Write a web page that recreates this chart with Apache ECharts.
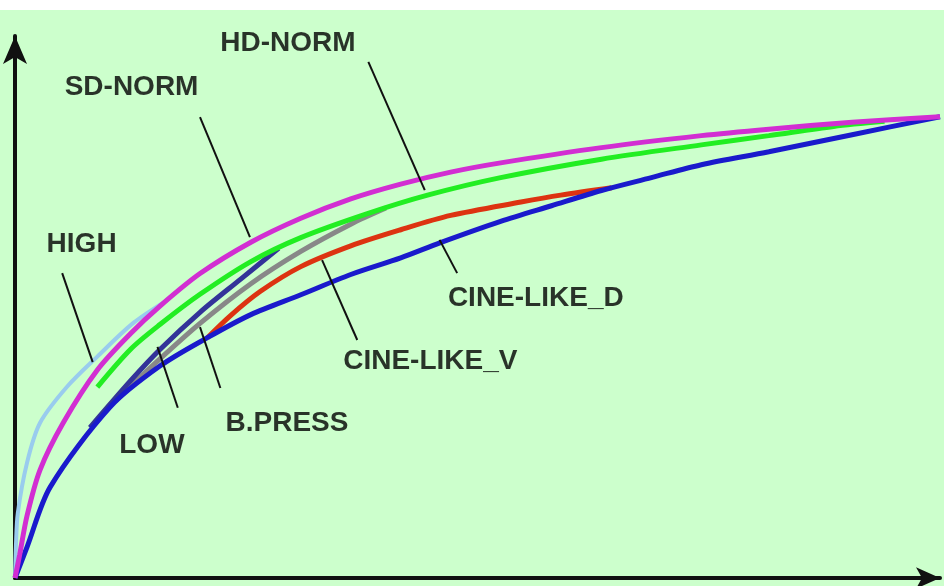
<!DOCTYPE html>
<html>
<head>
<meta charset="utf-8">
<script src="https://cdn.jsdelivr.net/npm/echarts@6/dist/echarts.min.js"></script>
<style>
  html, body { margin: 0; padding: 0; background: #fff; }
  #main { width: 944px; height: 586px; }
</style>
</head>
<body>
<div id="main"></div>
<script>
// curves, x and y in relative units (0..100)
var highCurve = [[0, 0], [0.1, 7], [0.3, 14], [1.3, 25.0], [2.7, 33.6], [5.6, 41.4], [8.9, 48.0], [12.8, 55.3], [16.5, 60.3]];
var sdNorm = [[0, 0], [0.5, 5], [1.3, 13.5], [2.7, 23.4], [5.2, 33.6], [8.9, 45.1], [12.5, 53.0], [15.7, 59.0], [20.0, 66.0], [25.5, 72.8], [30.9, 78.0], [36.3, 82.2], [41.7, 85.4], [47.1, 88.0], [52.5, 90.0], [63.4, 93.3], [74.2, 95.9], [81.5, 97.3], [90.5, 98.8], [100, 100]];
var hdNorm = [[8.9, 41.4], [12.5, 49.6], [15.7, 55.0], [20.0, 61.5], [25.5, 68.6], [30.9, 73.8], [38.1, 79.0], [44.6, 83.0], [52.5, 86.8], [63.4, 90.8], [74.2, 93.9], [81.5, 95.9], [88.5, 97.9], [94, 99.0]];
var lowCurve = [[8.1, 32.6], [9.2, 35.2], [12.5, 42.8], [15.7, 49.6], [20.0, 57.6], [24.4, 64.8], [28.5, 71.5]];
var bPress = [[10.8, 38.3], [15.4, 47.0], [20.0, 55.2], [25.5, 63.8], [30.9, 70.8], [36.3, 76.7], [40.1, 80.2]];
var cineV = [[20.8, 52.1], [23.3, 56.9], [26.5, 62.1], [30.9, 67.5], [36.3, 72.0], [41.7, 75.5], [47.1, 78.6], [54.7, 81.5], [59.0, 83.0], [64.5, 84.6]];
var cineD = [[0, 0], [1.3, 6.7], [3.8, 19.7], [10.3, 37.1], [15.7, 46.0], [20.8, 52.1], [25.5, 57.1], [30.9, 61.4], [36.3, 65.8], [41.7, 69.4], [46.0, 72.7], [52.5, 77.3], [58.0, 80.7], [63.4, 84.0], [68.8, 86.8], [74.2, 89.6], [81.5, 92.4], [90.5, 96.1], [100, 100]];

// labels and their leader lines
var labelNames = ['HD-NORM', 'SD-NORM', 'HIGH', 'LOW', 'B.PRESS', 'CINE-LIKE_V', 'CINE-LIKE_D'];
var labelAt = [[29.5, 116.0], [12.6, 106.4], [7.2, 72.4], [14.8, 28.8], [29.4, 33.6], [44.9, 47.0], [56.3, 60.7]];
var leaders = [
  [[38.2, 111.9], [44.3, 84.1]],
  [[20.0, 99.9], [25.4, 73.9]],
  [[5.1, 66.1], [8.4, 46.8]],
  [[15.4, 50.1], [17.6, 36.9]],
  [[20.0, 54.4], [22.2, 41.2]],
  [[33.2, 68.9], [37.0, 51.6]],
  [[45.9, 73.3], [47.8, 66.1]]
];

function curve(name, data, color, width, z) {
  return {
    name: name,
    type: 'line',
    data: data,
    smooth: 0.3,
    symbol: 'none',
    clip: false,
    silent: true,
    z: z,
    lineStyle: { color: color, width: width }
  };
}

var axisLine = function (size) {
  return {
    show: true,
    onZero: false,
    symbol: ['none', 'arrow'],
    symbolSize: size,
    lineStyle: { color: '#111', width: 4 }
  };
};

var chart = echarts.init(document.getElementById('main'));
chart.setOption({
  backgroundColor: '#ccffcc',
  animation: false,
  graphic: [{
    type: 'rect',
    shape: { x: 0, y: 0, width: 944, height: 10 },
    style: { fill: '#ffffff' },
    z: -1
  }],
  grid: { left: 15, right: 4, top: 36, bottom: 8 },
  xAxis: {
    type: 'value', min: 0, max: 100,
    axisLine: axisLine([16, 24]),
    axisTick: { show: false }, axisLabel: { show: false }, splitLine: { show: false }
  },
  yAxis: {
    type: 'value', min: 0, max: 117.5,
    axisLine: axisLine([18, 28]),
    axisTick: { show: false }, axisLabel: { show: false }, splitLine: { show: false }
  },
  series: [
    curve('HIGH', highCurve, '#99ccee', 4, 2),
    curve('CINE-LIKE_V', cineV, '#dd3311', 5, 3),
    curve('B.PRESS', bPress, '#888888', 5, 3),
    curve('LOW', lowCurve, '#333399', 5, 3),
    curve('CINE-LIKE_D', cineD, '#1a1acc', 5, 4),
    curve('HD-NORM', hdNorm, '#22ee22', 5, 5),
    curve('SD-NORM', sdNorm, '#d22ed2', 5, 6),
    {
      type: 'lines',
      coordinateSystem: 'cartesian2d',
      silent: true,
      z: 7,
      lineStyle: { color: '#111', width: 2, opacity: 1 },
      data: leaders.map(function (c) { return { coords: c }; })
    },
    {
      type: 'scatter',
      symbolSize: 0,
      silent: true,
      z: 8,
      data: labelNames.map(function (n, i) { return { name: n, value: labelAt[i] }; }),
      label: {
        show: true,
        position: 'inside',
        formatter: '{b}',
        color: '#000',
        textBorderWidth: 0,
        fontFamily: 'Liberation Sans',
        fontWeight: 'bold',
        fontSize: 28
      }
    }
  ]
});
</script>
</body>
</html>
